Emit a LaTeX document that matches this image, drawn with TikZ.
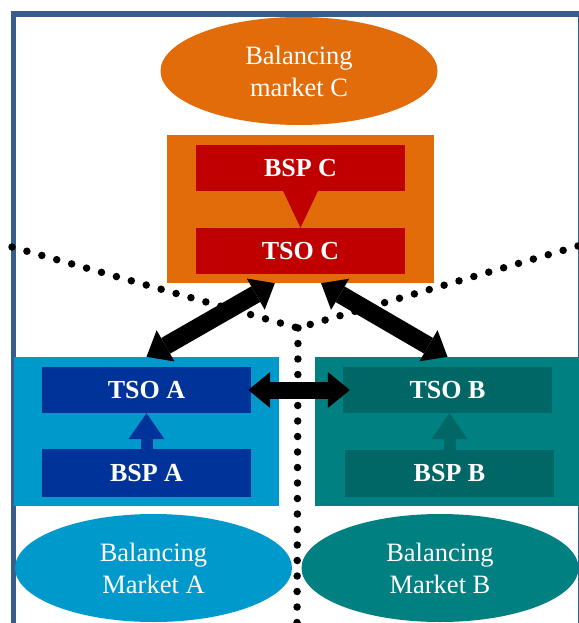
\documentclass[tikz,border=0pt]{standalone}
\usepackage{fontspec}
\setmainfont{Liberation Serif}
\usetikzlibrary{shapes.geometric,arrows.meta,calc}

\definecolor{frameblue}{HTML}{385D8A}
\definecolor{orangeC}{HTML}{E36C0A}
\definecolor{redC}{HTML}{C00000}
\definecolor{blueA}{HTML}{0099CC}
\definecolor{navyA}{HTML}{003399}
\definecolor{tealB}{HTML}{008080}
\definecolor{tealD}{HTML}{006666}

\begin{document}
\begin{tikzpicture}[x=1pt, y=-1pt,
  market/.style={ellipse, minimum width=277pt, minimum height=108pt, inner sep=0pt,
    text=white, align=center, font=\fontsize{26.5}{32}\selectfont},
  zone/.style={rectangle, inner sep=0pt, minimum width=265pt, minimum height=149pt},
  actor/.style={rectangle, inner sep=0pt, minimum width=209pt, minimum height=46pt,
    text=white, font=\fontsize{26}{31}\selectfont\bfseries},
  dots/.style={line width=7.5pt, line cap=round, dash pattern=on 0pt off 15.5pt},
  link/.style={line width=17pt,
    arrows={Triangle[width=36pt,length=22pt,line width=0pt]-Triangle[width=36pt,length=22pt,line width=0pt]}},
  uplink/.style={line width=12pt,
    arrows={-Triangle[width=36pt,length=26pt,line width=0pt]}},
]
\useasboundingbox (0,0) rectangle (578,623);

% outer frame
\draw[frameblue, line width=5.5pt] (13.3,13.8) rectangle (580.5,625.5);

% borders between the three control areas
\coordinate (dl) at (12,247);
\coordinate (dr) at (578,246);
\coordinate (dm) at (298,328);
\coordinate (db) at (297,626);
\draw[dots] (dl) -- (dm);
\draw[dots] (dr) -- (dm);
\draw[dots] (dm) -- (db);

% area C
\node[market, fill=orangeC] (mktC) at (299,71) {Balancing\\market C};
\node[zone, fill=orangeC, minimum width=267pt, minimum height=148pt] (zoneC) at (300.5,209) {};
\node[actor, fill=redC] (bspC) at (300.5,168) {BSP C};
\node[actor, fill=redC] (tsoC) at (300.5,251) {TSO C};
\draw[redC, line width=12pt, arrows={-Triangle[width=35pt,length=37pt,line width=0pt]}]
  (bspC.south) -- (tsoC.north);

% area A
\node[zone, fill=blueA] (zoneA) at (146.5,431.5) {};
\node[actor, fill=navyA] (tsoA) at (146.5,390) {TSO A};
\node[actor, fill=navyA, minimum height=48pt] (bspA) at (146.5,473) {BSP A};
\draw[navyA, uplink] (bspA.north) -- (tsoA.south);
\node[market, fill=blueA] (mktA) at (153.5,568) {Balancing\\Market A};

% area B
\node[zone, fill=tealB] (zoneB) at (447.5,431.5) {};
\node[actor, fill=tealD] (tsoB) at (447.5,390) {TSO B};
\node[actor, fill=tealD, minimum height=47pt] (bspB) at (449.5,473.5) {BSP B};
\draw[tealD, uplink] (bspB.north) -- (bspB.north |- tsoB.south);
\node[market, fill=tealB] (mktB) at (440,568) {Balancing\\Market B};

% exchanges between the TSOs
\draw[link, line width=18pt] ($(zoneC.south west)!0.404!(zoneC.south east)$) -- (zoneA.north);
\draw[link, line width=18pt] ($(zoneC.south west)!0.577!(zoneC.south east)$) -- (zoneB.north);
\draw[link] ($(tsoA.east)+(-3,0)$) -- ($(tsoB.west)+(7,0)$);
\end{tikzpicture}
\end{document}
